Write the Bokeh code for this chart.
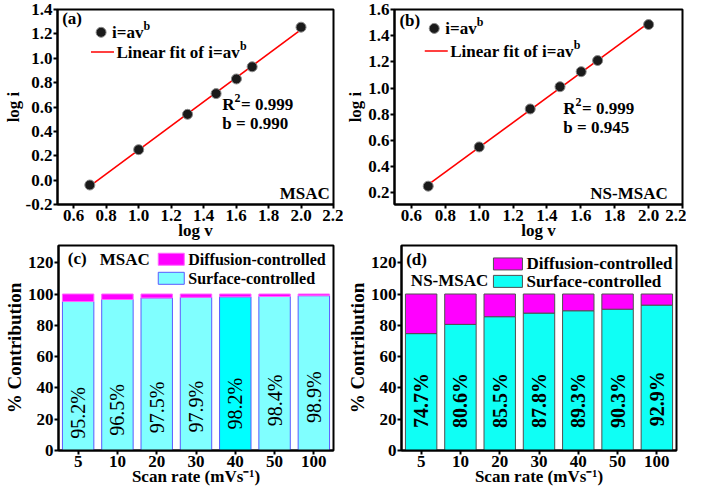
import numpy as np
from bokeh.plotting import figure
from bokeh.models import Range1d, FixedTicker, NumeralTickFormatter, FactorRange
from bokeh.layouts import column, row
from bokeh.embed import file_html
from bokeh.resources import INLINE
from bokeh.core.properties import value

# ---------------- data ----------------
log_v = [0.699, 1.0, 1.301, 1.477, 1.602, 1.699, 2.0]
log_i_msac = [-0.04, 0.25, 0.54, 0.71, 0.83, 0.93, 1.255]
log_i_ns = [0.25, 0.55, 0.84, 1.01, 1.125, 1.21, 1.485]

scan_rates = ["5", "10", "20", "30", "40", "50", "100"]
surf_msac = [95.2, 96.5, 97.5, 97.9, 98.2, 98.4, 98.9]
diff_msac = [4.8, 3.5, 2.5, 2.1, 1.8, 1.6, 1.1]
surf_ns = [74.7, 80.6, 85.5, 87.8, 89.3, 90.3, 92.9]
diff_ns = [25.3, 19.4, 14.5, 12.2, 10.7, 9.7, 7.1]

x_ticks = [0.6, 0.8, 1.0, 1.2, 1.4, 1.6, 1.8, 2.0, 2.2]
y_ticks_a = [-0.2, 0.0, 0.2, 0.4, 0.6, 0.8, 1.0, 1.2, 1.4]
y_ticks_b = [0.2, 0.4, 0.6, 0.8, 1.0, 1.2, 1.4, 1.6]
y_ticks_bar = [0, 20, 40, 60, 80, 100, 120]

FONT = "Liberation Serif"
BAR_YMAX = 131
TICK_SIZE = "17px"
MARK_FILL = "#1a1a1a"
MARK_LINE = "#8a8a8a"
RED = "#FF0000"


def style(p, xlabel, ylabel, ylabel_size="17px"):
    p.outline_line_color = "black"
    p.outline_line_width = 2
    p.outline_line_alpha = 1
    p.xgrid.visible = False
    p.ygrid.visible = False
    p.background_fill_color = "white"
    p.border_fill_color = "white"
    for ax in p.xaxis + p.yaxis:
        ax.axis_line_width = 2
        ax.axis_line_color = "black"
        ax.major_tick_line_width = 2
        ax.major_tick_line_color = "black"
        ax.major_tick_out = 4
        ax.major_tick_in = 0
        ax.minor_tick_line_color = None
        ax.major_label_text_font = FONT
        ax.major_label_text_font_style = "bold"
        ax.major_label_text_font_size = TICK_SIZE
        ax.major_label_text_color = "black"
        ax.axis_label_text_font = FONT
        ax.axis_label_text_font_style = "bold"
        ax.axis_label_text_font_size = "17px"
        ax.axis_label_text_color = "black"
        ax.major_label_standoff = 1
        ax.axis_label_standoff = 0
    p.yaxis.axis_label_text_font_size = ylabel_size
    p.xaxis.axis_label_standoff = -3
    p.xaxis.axis_label = xlabel
    p.yaxis.axis_label = ylabel


def frame_pos(p, fx, fy):
    """Convert frame fractions into coordinates of the plot's ranges."""
    xr, yr = p.x_range, p.y_range
    if isinstance(xr, FactorRange):
        x = fx * len(xr.factors)
    else:
        x = xr.start + fx * (xr.end - xr.start)
    y = yr.start + fy * (yr.end - yr.start)
    return x, y


def txt(p, fx, fy, s, size="17px", fstyle="bold", xoff=0, yoff=0):
    x, y = frame_pos(p, fx, fy)
    p.text(x=[x], y=[y], text=[s], x_offset=xoff, y_offset=yoff,
           text_font=value(FONT), text_font_size=size, text_font_style=fstyle,
           text_align="left", text_baseline="middle", text_color="black")


def log_panel(y, ytick, yr, tag, name, b_text, pos, rborder):
    p = figure(width=343, height=242, output_backend="svg", toolbar_location=None,
               x_range=Range1d(0.5, 2.2), y_range=Range1d(*yr),
               min_border_left=30, min_border_right=rborder, min_border_top=9,
               min_border_bottom=30)
    style(p, "log v", "log i")
    p.xaxis.ticker = FixedTicker(ticks=x_ticks)
    p.yaxis.ticker = FixedTicker(ticks=ytick)
    p.xaxis.formatter = NumeralTickFormatter(format="0.0")
    p.yaxis.formatter = NumeralTickFormatter(format="0.0")
    # linear fit from data
    b, a = np.polyfit(log_v, y, 1)
    xs = np.array([log_v[0], log_v[-1]])
    p.line(xs, b * xs + a, line_color=RED, line_width=1.6)
    p.scatter(log_v, y, size=10, fill_color=MARK_FILL, line_color=MARK_LINE, line_width=1)
    # legend row 1: marker
    mx, my = frame_pos(p, pos["mx"], pos["my"])
    p.scatter([mx], [my], size=10, fill_color=MARK_FILL, line_color=MARK_LINE)
    txt(p, pos["mx"], pos["my"], "i=av", xoff=11)
    txt(p, pos["mx"], pos["my"], "b", size="12px", xoff=11 + 31.5, yoff=-6)
    # legend row 2: fit line
    lx, ly = frame_pos(p, pos["lx"], pos["ly"])
    p.scatter([lx], [ly], marker="dash", size=23, line_color=RED, line_width=1.6)
    txt(p, pos["lx"], pos["ly"], "Linear fit of i=av", xoff=14)
    txt(p, pos["lx"], pos["ly"], "b", size="12px", xoff=14 + 123.5, yoff=-6)
    # annotations
    txt(p, 0.017, pos["tagy"], tag)
    txt(p, pos["rx"], pos["ry"], "R")
    txt(p, pos["rx"], pos["ry"], "2", size="12px", xoff=12.3, yoff=-6)
    txt(p, pos["rx"], pos["ry"], "= 0.999", xoff=18.8)
    txt(p, pos["rx"], pos["ry"], b_text, yoff=19)
    txt(p, pos["nx"], 0.055, name)
    return p


pa = log_panel(log_i_msac, y_ticks_a, (-0.2, 1.4), "(a)", "MSAC", "b = 0.990",
               dict(mx=0.158, my=0.883, lx=0.163, ly=0.782, tagy=0.955,
                    rx=0.597, ry=0.515, nx=0.805), rborder=10)
pb = log_panel(log_i_ns, y_ticks_b, (0.11, 1.6), "(b)", "NS-MSAC", "b =  0.945",
               dict(mx=0.138, my=0.903, lx=0.145, ly=0.787, tagy=0.945,
                    rx=0.586, ry=0.493, nx=0.68), rborder=4)


def bar_panel(surf, diff, surf_colors, surf_edge, diff_edge, label_y, label_style,
              tag, name, leg):
    p = figure(width=343, height=246, output_backend="svg", toolbar_location=None,
               x_range=FactorRange(*scan_rates), y_range=Range1d(0, BAR_YMAX),
               min_border_left=30, min_border_right=leg["rb"], min_border_top=3,
               min_border_bottom=30)
    style(p, "Scan rate (mVs⁻¹)", "% Contribution", ylabel_size="19px")
    p.yaxis.ticker = FixedTicker(ticks=y_ticks_bar)
    top = np.array(surf) + np.array(diff)
    p.vbar(x=scan_rates, bottom=0, top=surf, width=0.8, fill_color=surf_colors,
           line_color=surf_edge, line_width=1)
    p.vbar(x=scan_rates, bottom=surf, top=top, width=0.8, fill_color="#FF00FF",
           line_color=diff_edge, line_width=1)
    p.text(x=scan_rates, y=label_y, text=[f"{v}%" for v in surf], angle=np.pi / 2,
           text_align="center", text_baseline="middle", text_font=value(FONT),
           text_font_size="20px", text_font_style=label_style, text_color="black")
    # legend
    cx, y1 = frame_pos(p, leg["cx"], leg["y1"])
    _, y2 = frame_pos(p, leg["cx"], leg["y2"])
    p.rect([cx], [y1], width=leg["w"], height=12, width_units="screen",
           height_units="screen", fill_color="#FF00FF", line_color=diff_edge)
    p.rect([cx], [y2], width=leg["w"], height=12, width_units="screen",
           height_units="screen", fill_color=leg["c2"], line_color=surf_edge)
    txt(p, leg["cx"], leg["y1"], "Diffusion-controlled", size=leg["fs"],
        xoff=leg["w"] / 2 + 4)
    txt(p, leg["cx"], leg["y2"], "Surface-controlled", size=leg["fs"],
        xoff=leg["w"] / 2 + 4)
    txt(p, leg["tagx"], leg["tagy"], tag)
    txt(p, leg["nx"], leg["ny"], name)
    return p


c_colors = ["#80FFFF", "#80FFFF", "#80FFFF", "#80FFFF", "#00FFFF", "#80FFFF", "#80FFFF"]
c_label_y = [24, 26, 27.5, 28, 30, 32, 34]
pc = bar_panel(surf_msac, diff_msac, c_colors, "#5a5aff", "#ff66ff", c_label_y, "normal",
               "(c)", "MSAC",
               dict(cx=0.41, w=26, y1=0.933, y2=0.84, c2="#80FFFF", fs="16px",
                    tagx=0.034, tagy=0.935, nx=0.15, ny=0.93, rb=10))
d_colors = ["#0FFFF5"] * 7
d_label_y = [32, 32, 32, 32, 32, 32, 33]
pd_ = bar_panel(surf_ns, diff_ns, d_colors, "#505050", "#505050", d_label_y, "bold",
                "(d)", "NS-MSAC",
                dict(cx=0.387, w=29, y1=0.91, y2=0.825, c2="#0FFFF5", fs="17px",
                     tagx=0.017, tagy=0.93, nx=0.034, ny=0.83, rb=10))

layout = column(row(pa, pb), row(pc, pd_))
open("out.html", "w").write(file_html(layout, INLINE))
